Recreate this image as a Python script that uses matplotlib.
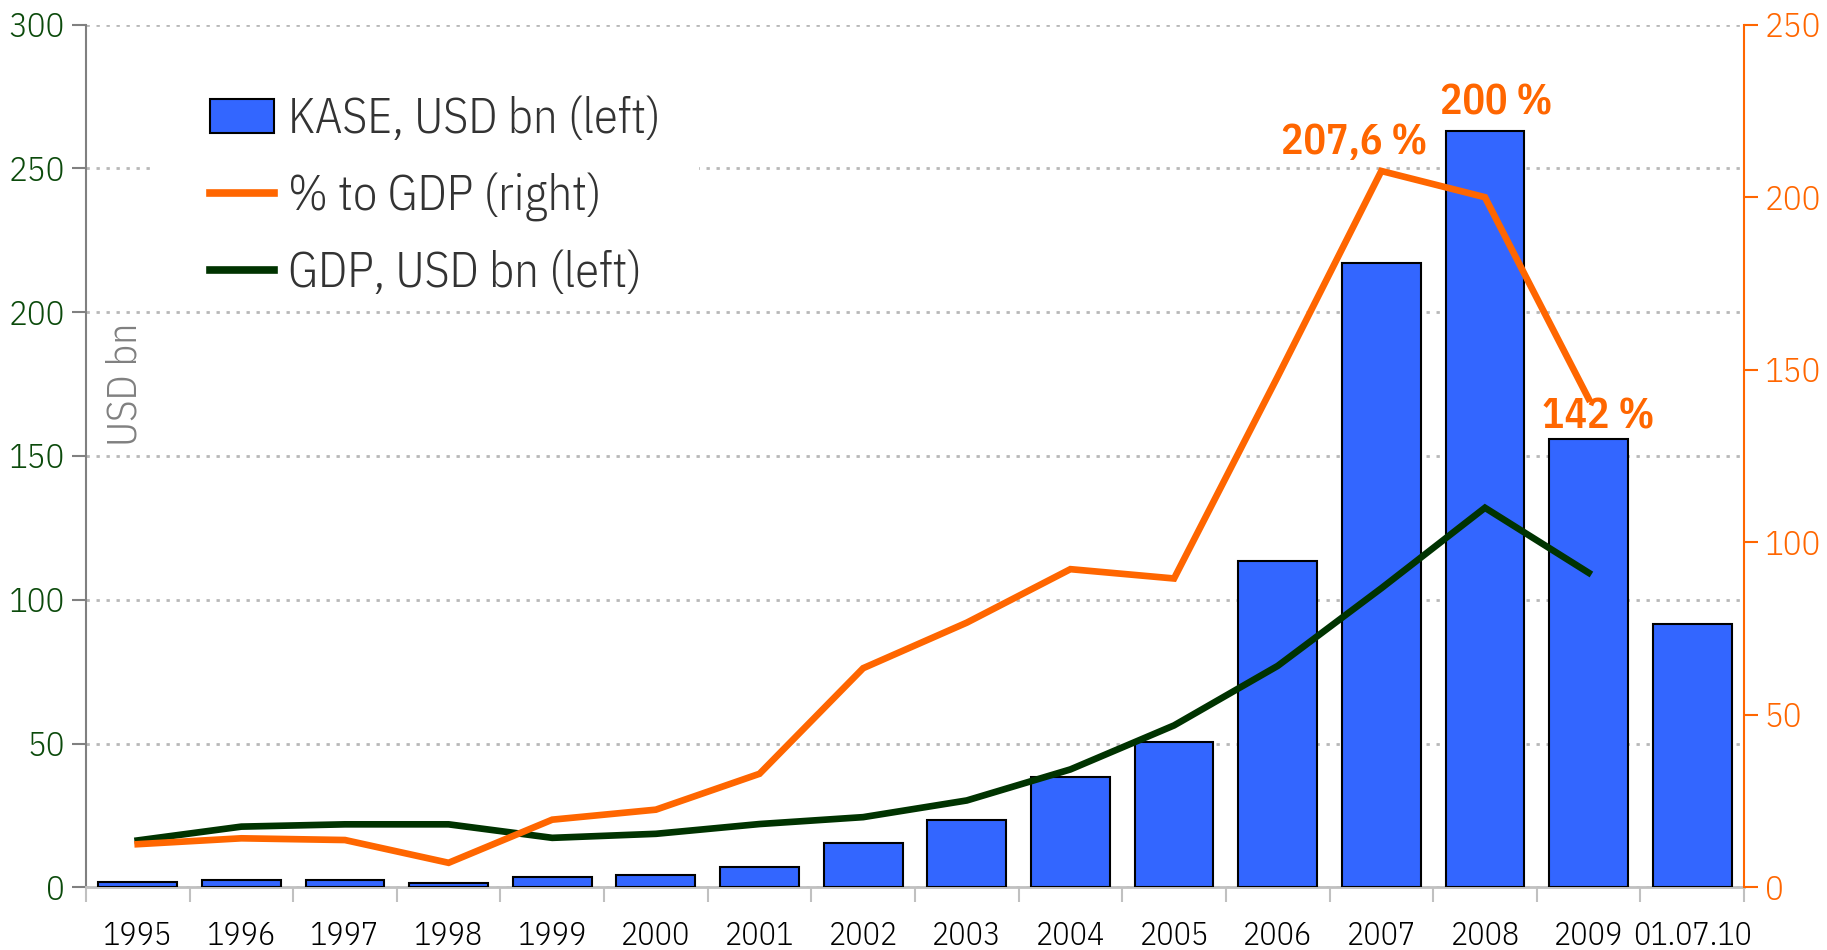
import matplotlib
matplotlib.use("Agg")
import matplotlib.pyplot as plt
from matplotlib.patches import Rectangle
import numpy as np

plt.rcParams['font.family'] = ['IBM Plex Sans Condensed', 'DejaVu Sans']

categories = ['1995', '1996', '1997', '1998', '1999', '2000', '2001', '2002',
              '2003', '2004', '2005', '2006', '2007', '2008', '2009', '01.07.10']
kase = [2.0, 2.7, 2.7, 1.4, 3.5, 4.3, 7.1, 15.5, 23.4, 38.3, 50.4, 113.5,
        217.0, 263.0, 156.0, 91.6]
gdp = [16.3, 21.1, 21.9, 21.9, 17.2, 18.6, 22.0, 24.4, 30.2, 41.0, 56.3,
       77.0, 104.0, 132.0, 109.4]
pct_gdp = [12.5, 14.2, 13.7, 7.1, 19.6, 22.5, 32.9, 63.5, 76.7, 92.2, 89.5,
           148.0, 207.6, 200.0, 141.6]
pct_labels = ['207,6 %', '200 %', '142 %']
pct_label_idx = [12, 13, 14]

BLUE = '#3366FF'
ORANGE = '#FF6600'
GREEN = '#003300'
TICKGREEN = '#0B4A0B'
GRAY = '#808080'

fig = plt.figure(figsize=(18.27, 9.5), dpi=100)
ax = fig.add_axes([0.047, 0.066, 0.9076, 0.908])
ax2 = ax.twinx()

x = np.arange(len(categories))
bars = ax.bar(x, kase, width=0.76, color=BLUE, edgecolor='black', linewidth=1.5,
              zorder=3, label='KASE, USD bn (left)')
gl, = ax.plot(x[:len(gdp)], gdp, color=GREEN, lw=4.8, zorder=4,
              solid_joinstyle='miter', label='GDP, USD bn (left)')
ol, = ax2.plot(x[:len(pct_gdp)], pct_gdp, color=ORANGE, lw=4.8, zorder=4,
               solid_joinstyle='miter', label='% to GDP (right)')

ax.set_xlim(-0.5, len(categories) - 0.5)
ax.set_ylim(0, 300)
ax2.set_ylim(0, 250)
ax.set_yticks(np.arange(0, 301, 50))
ax2.set_yticks(np.arange(0, 251, 50))

ax.yaxis.grid(True, color='#B8B8B8', linestyle=(0, (1.2, 2.4)), linewidth=2.0, zorder=0)
ax.set_axisbelow(True)

# white area behind the legend (interrupts the gridline like the original)
ax.add_patch(Rectangle((0.039, 0.72), 0.331, 0.25, transform=ax.transAxes,
                       facecolor='white', edgecolor='none', zorder=1))

# x ticks: labels at centers, tick marks at boundaries
ax.set_xticks(x)
ax.set_xticklabels(categories)
ax.set_xticks(np.arange(-0.5, len(categories), 1.0), minor=True)
ax.tick_params(axis='x', which='major', length=0, labelsize=23, pad=24, colors='black')
ax.tick_params(axis='x', which='minor', length=11, width=1.5, color='#C0C0C0')
ax.tick_params(axis='y', length=10, width=1.5, color=GRAY, labelcolor=TICKGREEN,
               labelsize=25, pad=5)
ax2.tick_params(axis='y', length=10, width=1.5, color=ORANGE, labelcolor=ORANGE,
                labelsize=25, pad=5)
for lab in ax.get_xticklabels() + ax.get_yticklabels() + ax2.get_yticklabels():
    lab.set_fontweight(300)

for s in ['top', 'right']:
    ax.spines[s].set_visible(False)
ax.spines['left'].set_color(GRAY)
ax.spines['left'].set_linewidth(1.5)
ax.spines['bottom'].set_color('#C0C0C0')
ax.spines['bottom'].set_linewidth(2.0)
for s in ['top', 'left', 'bottom']:
    ax2.spines[s].set_visible(False)
ax2.spines['right'].set_color(ORANGE)
ax2.spines['right'].set_linewidth(1.5)

ax.text(0.0235, 0.583, 'USD bn', rotation=90, transform=ax.transAxes,
        ha='center', va='center', fontsize=30, color=GRAY, fontweight=300)

# value labels
offsets = [(-0.26, 212.5), (0.11, 224.0), (0.09, 133.0)]
for lab, i, (dx, yb) in zip(pct_labels, pct_label_idx, offsets):
    ax2.text(i + dx, yb, lab, ha='center', va='baseline', fontsize=30,
             fontweight=600, color=ORANGE, zorder=6)

leg = ax2.legend([bars, ol, gl],
                 ['KASE, USD bn (left)', '% to GDP (right)', 'GDP, USD bn (left)'],
                 loc='upper left', bbox_to_anchor=(0.057, 0.951), fontsize=35,
                 frameon=False, handlelength=1.32, handletextpad=0.3,
                 labelspacing=0.6, borderpad=0.1)
for t in leg.get_texts():
    t.set_color('#333333')
    t.set_fontweight(300)
for h in leg.legend_handles[1:]:
    h.set_linewidth(5.5)

fig.savefig('out.png', dpi=100)
